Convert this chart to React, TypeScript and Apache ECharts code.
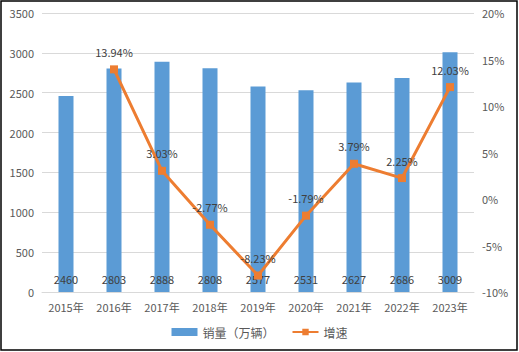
import React, { useEffect, useRef } from "react";
import * as echarts from "echarts";

const categories = ["2015年", "2016年", "2017年", "2018年", "2019年", "2020年", "2021年", "2022年", "2023年"];
const sales = [2460, 2803, 2888, 2808, 2577, 2531, 2627, 2686, 3009];
const growth: (number | null)[] = [null, 13.94, 3.03, -2.77, -8.23, -1.79, 3.79, 2.25, 12.03];
const leftTicks = { min: 0, max: 3500, interval: 500 };
const rightTicks = { min: -10, max: 20, interval: 5 };

const FONT = "'Noto Sans CJK SC', 'DejaVu Sans', sans-serif";

export default function App() {
  const ref = useRef<HTMLDivElement>(null);
  useEffect(() => {
    if (!ref.current) return;
    const chart = echarts.init(ref.current, null, { renderer: "svg" });
    chart.setOption({
      animation: false,
      backgroundColor: "#ffffff",
      textStyle: { fontFamily: FONT },
      graphic: [
        {
          type: "rect",
          shape: { x: 1, y: 1, width: 516, height: 349 },
          style: { fill: "none", stroke: "#000000", lineWidth: 1.5 },
          silent: true,
        },
      ],
      grid: { left: 42, right: 45, top: 13, bottom: 60, containLabel: false },
      legend: {
        bottom: 9,
        left: "center",
        itemGap: 17,
        itemWidth: 26,
        itemHeight: 8,
        textStyle: { color: "#595959", fontSize: 12, fontFamily: FONT },
        data: [
          { name: "销量（万辆）", icon: "rect" },
          { name: "增速" },
        ],
      },
      xAxis: {
        type: "category",
        data: categories,
        axisLine: { lineStyle: { color: "#D9D9D9" } },
        axisTick: { show: false },
        axisLabel: { color: "#595959", fontSize: 11, margin: 9 },
      },
      yAxis: [
        {
          type: "value",
          ...leftTicks,
          axisLine: { show: false },
          axisTick: { show: false },
          splitLine: { lineStyle: { color: "#D9D9D9" } },
          axisLabel: { color: "#595959", fontSize: 11, margin: 8, formatter: (v: number) => String(v) },
        },
        {
          type: "value",
          ...rightTicks,
          axisLine: { show: false },
          axisTick: { show: false },
          splitLine: { show: false },
          axisLabel: { color: "#595959", fontSize: 11, margin: 8, formatter: "{value}%" },
        },
      ],
      series: [
        {
          name: "销量（万辆）",
          type: "bar",
          data: sales,
          barWidth: 15,
          itemStyle: { color: "#5B9BD5" },
          label: {
            show: true,
            position: "insideBottom",
            distance: 8,
            color: "#404040",
            fontSize: 11,
          },
        },
        {
          name: "增速",
          type: "line",
          yAxisIndex: 1,
          data: growth,
          connectNulls: false,
          symbol: "rect",
          symbolSize: 8,
          lineStyle: { color: "#ED7D31", width: 3 },
          itemStyle: { color: "#ED7D31" },
          label: {
            show: true,
            position: "top",
            distance: 8,
            color: "#404040",
            fontSize: 11,
            formatter: (p: any) => p.value.toFixed(2) + "%",
          },
        },
      ],
    });
    return () => chart.dispose();
  }, []);
  return (
    <div
      ref={ref}
      style={{ position: "fixed", left: 0, top: 0, width: 519, height: 352 }}
    />
  );
}
